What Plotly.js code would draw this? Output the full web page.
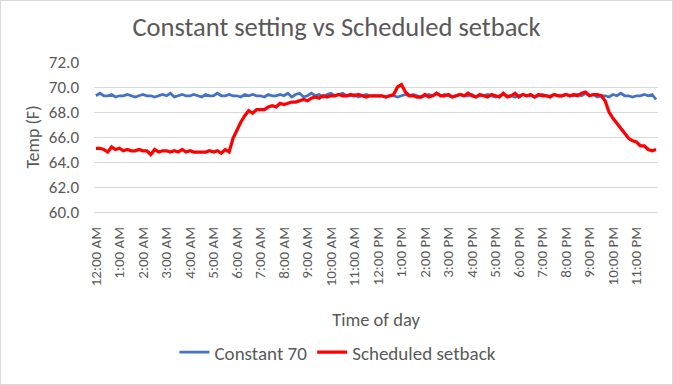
<!DOCTYPE html>
<html>
<head>
<meta charset="utf-8">
<script src="https://cdn.plot.ly/plotly-3.0.1.min.js"></script>
<style>
html,body{margin:0;padding:0;background:#fff;}
#chart{width:673px;height:385px;box-sizing:border-box;border:1px solid #D9D9D9;}
</style>
</head>
<body>
<div id="chart"></div>
<script>
// hourly tick labels (data sampled every 10 minutes, 6 points per hour)
var hourLabels = ["12:00 AM","1:00 AM","2:00 AM","3:00 AM","4:00 AM","5:00 AM","6:00 AM","7:00 AM","8:00 AM","9:00 AM","10:00 AM","11:00 AM",
                  "12:00 PM","1:00 PM","2:00 PM","3:00 PM","4:00 PM","5:00 PM","6:00 PM","7:00 PM","8:00 PM","9:00 PM","10:00 PM","11:00 PM"];

var constant70 = [
 69.3,69.5,69.3,69.3,69.4,69.2, 69.3,69.3,69.4,69.3,69.2,69.3,
 69.4,69.3,69.3,69.2,69.3,69.4, 69.3,69.5,69.2,69.3,69.4,69.3,
 69.3,69.4,69.3,69.2,69.4,69.3, 69.3,69.5,69.3,69.3,69.4,69.3,
 69.3,69.2,69.4,69.3,69.4,69.3, 69.3,69.2,69.4,69.3,69.3,69.4,
 69.3,69.5,69.2,69.4,69.5,69.2, 69.3,69.5,69.3,69.4,69.2,69.4,
 69.5,69.3,69.4,69.5,69.3,69.3, 69.4,69.2,69.3,69.4,69.3,69.3,
 69.3,69.3,69.2,69.3,69.3,69.2, 69.3,69.4,69.3,69.4,69.3,69.2,
 69.3,69.4,69.3,69.5,69.3,69.4, 69.3,69.2,69.3,69.4,69.3,69.3,
 69.4,69.2,69.3,69.3,69.4,69.3, 69.2,69.3,69.4,69.3,69.3,69.2,
 69.3,69.4,69.3,69.3,69.2,69.3, 69.4,69.3,69.3,69.4,69.3,69.3,
 69.4,69.3,69.3,69.4,69.3,69.5, 69.3,69.4,69.2,69.3,69.3,69.2,
 69.4,69.3,69.5,69.3,69.3,69.2, 69.3,69.3,69.4,69.3,69.4,69.0
];

var scheduledSetback = [
 65.1,65.1,65.0,64.8,65.2,65.0, 65.1,64.9,65.0,64.9,64.9,65.0,
 64.9,64.9,64.6,65.0,64.8,64.9, 64.9,64.8,64.9,64.8,65.0,64.8,
 64.9,64.8,64.8,64.8,64.8,64.9, 64.8,64.9,64.7,65.0,64.8,65.9,
 66.6,67.2,67.7,68.1,67.9,68.2, 68.2,68.2,68.4,68.5,68.4,68.7,
 68.6,68.7,68.8,68.8,68.9,69.0, 68.9,69.1,69.2,69.1,69.3,69.2,
 69.3,69.3,69.4,69.3,69.3,69.4, 69.3,69.4,69.3,69.2,69.3,69.3,
 69.3,69.3,69.2,69.3,69.4,70.0, 70.2,69.6,69.3,69.3,69.2,69.2,
 69.4,69.2,69.3,69.5,69.3,69.3, 69.4,69.2,69.3,69.4,69.3,69.5,
 69.3,69.2,69.4,69.3,69.2,69.4, 69.3,69.2,69.5,69.2,69.3,69.5,
 69.2,69.4,69.3,69.4,69.2,69.4, 69.3,69.3,69.2,69.4,69.3,69.3,
 69.4,69.3,69.4,69.3,69.5,69.6, 69.3,69.4,69.4,69.3,68.9,68.0,
 67.5,67.1,66.6,66.2,65.9,65.7, 65.6,65.3,65.3,65.0,64.9,65.0
];

var xIdx = scheduledSetback.map(function(_, i){ return i; });
var tickVals = hourLabels.map(function(_, h){ return h * 6; });

var traces = [
  {x: xIdx, y: constant70, type: 'scatter', mode: 'lines', name: 'Constant 70',
   line: {color: '#4472C4', width: 2.75}},
  {x: xIdx, y: scheduledSetback, type: 'scatter', mode: 'lines', name: 'Scheduled setback',
   line: {color: '#FF0000', width: 3.25}}
];

var font = "Carlito, Calibri, 'Open Sans', 'Liberation Sans', sans-serif";
var layout = {
  width: 671, height: 383,
  margin: {l: 93, r: 14, t: 61, b: 169},
  paper_bgcolor: '#ffffff', plot_bgcolor: '#ffffff',
  font: {family: font, color: '#595959', size: 13},
  title: {text: 'Constant setting vs Scheduled setback', font: {size: 26.5, color: '#595959'},
          x: 0.5, xanchor: 'center', y: 0.932, yanchor: 'middle'},
  xaxis: {
    range: [-0.5, scheduledSetback.length - 0.5],
    tickvals: tickVals, ticktext: hourLabels, tickangle: -90,
    showgrid: false, zeroline: false, showline: true, linecolor: '#D9D9D9', ticks: '',
    tickfont: {size: 15, color: '#595959'}, ticklabelstandoff: 8,
    title: {text: 'Time of day', font: {size: 18.5, color: '#595959'}, standoff: 27},
    fixedrange: true
  },
  yaxis: {
    range: [60, 72], dtick: 2, tickformat: '.1f',
    showgrid: true, gridcolor: '#D9D9D9', gridwidth: 1, zeroline: false, showline: false,
    tickfont: {size: 17, color: '#595959'}, ticks: '', ticklen: 0, ticklabelstandoff: 14,
    title: {text: 'Temp (F)', font: {size: 18, color: '#595959'}, standoff: 4},
    fixedrange: true
  },
  showlegend: true,
  legend: {orientation: 'h', x: 0.4326, xanchor: 'center', y: -0.935, yanchor: 'middle',
           font: {size: 19, color: '#595959'}, traceorder: 'normal'}
};

Plotly.newPlot('chart', traces, layout, {displayModeBar: false, staticPlot: true});
</script>
</body>
</html>
